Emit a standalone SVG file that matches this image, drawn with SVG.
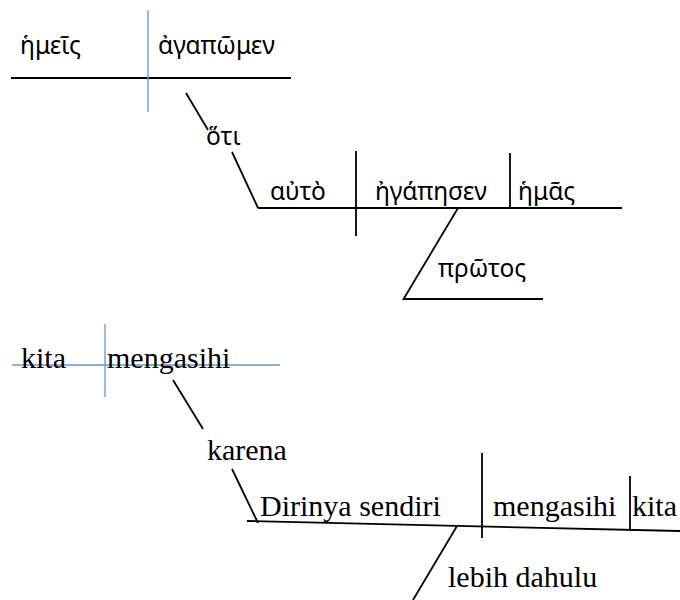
<svg xmlns="http://www.w3.org/2000/svg" width="680" height="600" viewBox="0 0 680 600">
<style>
.l{stroke:#000;stroke-width:1.8;fill:none}
.b{stroke:#5b9bd5;stroke-width:1.3;fill:none}
.g{font-family:"Noto Sans","DejaVu Sans",sans-serif;font-size:24.5px;fill:#000}
.s{font-family:"Liberation Serif","Times New Roman",serif;font-size:30px;fill:#000}
</style>
<rect width="680" height="600" fill="#fff"/>
<g id="connectors">
<line class="l" x1="11" y1="78" x2="291" y2="78"/>
<line class="b" x1="148" y1="10" x2="148" y2="112"/>
<line class="l" x1="186" y1="93" x2="208" y2="130"/>
<line class="l" x1="232" y1="152" x2="258" y2="208"/>
<line class="l" x1="258" y1="208" x2="622" y2="208"/>
<line class="l" x1="356" y1="151" x2="356" y2="236"/>
<line class="l" x1="510" y1="153" x2="510" y2="208"/>
<line class="l" x1="458" y1="208" x2="403" y2="300"/>
<line class="l" x1="403" y1="299" x2="543" y2="299"/>
<line class="b" x1="12" y1="365" x2="280" y2="365"/>
<line class="b" x1="105" y1="324" x2="105" y2="397"/>
<line class="l" x1="173" y1="380" x2="203" y2="429"/>
<line class="l" x1="232" y1="469" x2="258" y2="523"/>
<line class="l" x1="247" y1="521" x2="680" y2="531"/>
<line class="l" x1="482" y1="453" x2="482" y2="538"/>
<line class="l" x1="630" y1="476" x2="630" y2="531"/>
<line class="l" x1="457" y1="526" x2="413" y2="600"/>
</g>
<g id="n-hemeis"><text class="g" x="20" y="54">ἡμεῖς</text></g>
<g id="n-agapomen"><text class="g" x="158" y="54">ἀγαπῶμεν</text></g>
<g id="n-hoti"><text class="g" x="206" y="145">ὅτι</text></g>
<g id="n-auto"><text class="g" x="270" y="200">αὐτὸ</text></g>
<g id="n-egapesen"><text class="g" x="375" y="200">ἠγάπησεν</text></g>
<g id="n-hemas"><text class="g" x="518" y="200">ἡμᾶς</text></g>
<g id="n-protos"><text class="g" x="438" y="277">πρῶτος</text></g>
<g id="n-kita1"><text class="s" x="21" y="368">kita</text></g>
<g id="n-mengasihi1"><text class="s" x="107" y="368">mengasihi</text></g>
<g id="n-karena"><text class="s" x="207" y="460">karena</text></g>
<g id="n-dirinya"><text class="s" x="260" y="516">Dirinya sendiri</text></g>
<g id="n-mengasihi2"><text class="s" x="493" y="516">mengasihi</text></g>
<g id="n-kita2"><text class="s" x="632" y="516">kita</text></g>
<g id="n-lebih"><text class="s" x="448" y="587">lebih dahulu</text></g>
</svg>
